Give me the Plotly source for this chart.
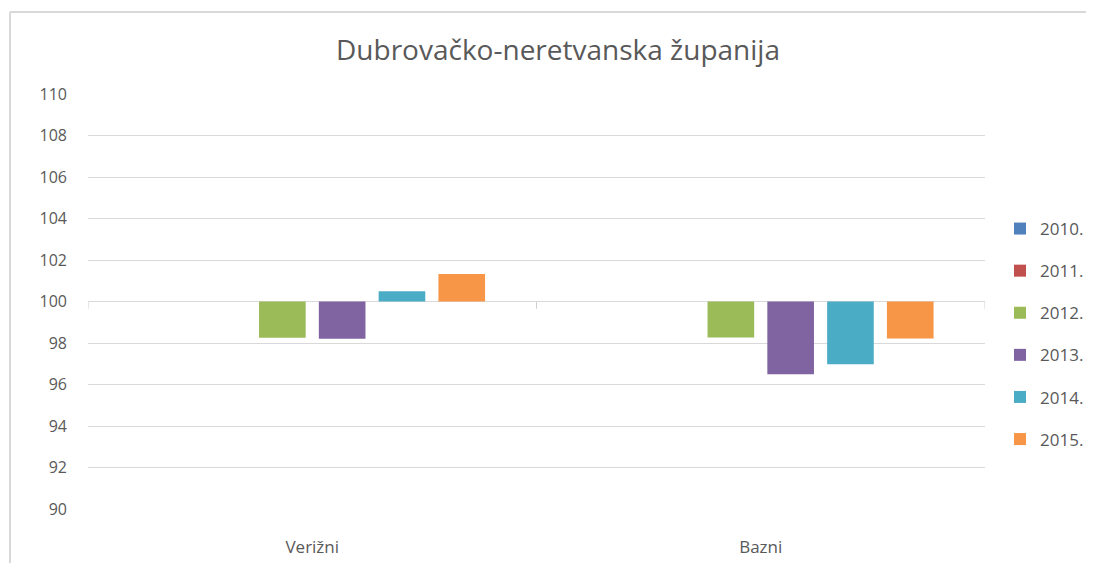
import plotly.graph_objects as go

categories = ["Verižni", "Bazni"]
years = ["2010.", "2011.", "2012.", "2013.", "2014.", "2015."]
values_2010 = [100.0, 100.0]
values_2011 = [100.0, 100.0]
values_2012 = [98.25, 98.26]
values_2013 = [98.2, 96.5]
values_2014 = [100.49, 96.98]
values_2015 = [101.33, 98.22]
series = [values_2010, values_2011, values_2012, values_2013, values_2014, values_2015]
colors = ["#4F81BD", "#C0504D", "#9BBB59", "#8064A2", "#4BACC6", "#F79646"]
base_value = 100

font_family = "Open Sans, Liberation Sans, sans-serif"
text_color = "#595959"

fig = go.Figure()
for name, vals, col in zip(years, series, colors):
    fig.add_trace(go.Bar(
        x=categories,
        y=[v - base_value for v in vals],
        base=base_value,
        name=name,
        marker=dict(color=col, line=dict(width=0)),
        legendgroup=name,
        customdata=vals,
        hovertemplate="%{x}: %{customdata}<extra>" + name + "</extra>",
    ))

W, H = 1078, 555
L, T, PW, PH = 80, 86, 897, 415

x_left = (2 - L) / PW
y_top = 1 + (T - 4) / PH
shapes = [
    dict(type="line", xref="paper", yref="paper",
         x0=x_left, x1=x_left, y0=-0.3, y1=y_top,
         line=dict(color="#d9d9d9", width=2), layer="below"),
    dict(type="line", xref="paper", yref="paper",
         x0=x_left, x1=1.5, y0=y_top, y1=y_top,
         line=dict(color="#d9d9d9", width=2), layer="below"),
    dict(type="line", xref="paper", yref="y", x0=0, x1=1, y0=base_value, y1=base_value,
         line=dict(color="#d0d0d0", width=1), layer="below"),
]
for xb in [-0.5, 0.5, 1.5]:
    shapes.append(dict(type="line", xref="x", yref="y", x0=xb, x1=xb,
                       y0=base_value, y1=base_value - 0.35,
                       line=dict(color="#d0d0d0", width=1), layer="below"))

fig.update_layout(
    width=W, height=H,
    paper_bgcolor="white", plot_bgcolor="white",
    margin=dict(l=L, r=W - L - PW, t=T, b=H - T - PH, autoexpand=False),
    title=dict(text="Dubrovačko-neretvanska županija", x=(558 - 8 - L) / PW, xref="paper",
               xanchor="center", y=1 - 42 / H, yanchor="middle",
               font=dict(family=font_family, size=28, color=text_color)),
    barmode="group", bargap=0.2, bargroupgap=0.22,
    font=dict(family=font_family, color=text_color, size=15),
    xaxis=dict(type="category", showgrid=False, showline=False, ticks="",
               ticklabelstandoff=26, tickfont=dict(size=17, color=text_color),
               range=[-0.5, 1.5]),
    yaxis=dict(range=[90, 110], dtick=2, showgrid=True, gridcolor="#d9d9d9",
               gridwidth=1, zeroline=False, showline=False, ticks="",
               ticklabelstandoff=20, tickfont=dict(size=16, color=text_color)),
    legend=dict(x=(992 - L) / PW, xanchor="left", y=1 - (326 - T) / PH, yanchor="middle",
                font=dict(size=17, color=text_color), tracegroupgap=17,
                itemwidth=30, traceorder="grouped"),
    shapes=shapes,
    showlegend=True,
)

fig.write_html("out.html")
